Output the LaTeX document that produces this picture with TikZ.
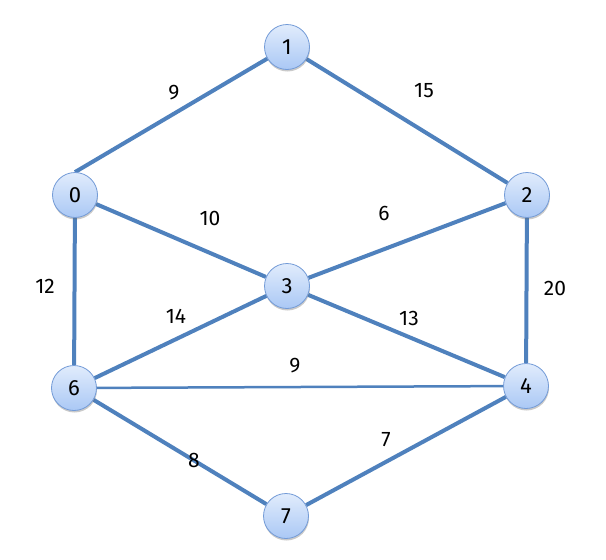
\documentclass[tikz,border=0pt]{standalone}
\usepackage{fontspec}
\setmainfont{Fira Sans}
\usetikzlibrary{shadows,backgrounds}
\definecolor{edgec}{RGB}{79,129,189}
\definecolor{nodebd}{RGB}{115,155,215}
\definecolor{nodetop}{RGB}{225,236,252}
\definecolor{nodebot}{RGB}{170,200,245}
\begin{document}
\begin{tikzpicture}[x=1pt,y=-1pt,
  vert/.style={circle,minimum size=45pt,inner sep=0pt,draw=nodebd,line width=0.8pt,
    top color=nodetop,bottom color=nodebot,
    drop shadow={shadow xshift=0.5pt,shadow yshift=-2pt,opacity=0.35,fill=black!60},
    font=\fontsize{22}{22}\selectfont,text=black},
  edge/.style={draw=edgec,line width=4pt},
  thin edge/.style={draw=edgec,line width=2.5pt},
  wlab/.style={font=\fontsize{21}{21}\selectfont,text=black,inner sep=0pt}]
\useasboundingbox (0,0) rectangle (606,560);
\node[vert] (n1) at (287,47) {1};
\node[vert] (n0) at (75,195) {0};
\node[vert] (n2) at (527,195) {2};
\node[vert] (n3) at (287,286) {3};
\node[vert] (n6) at (74,388) {6};
\node[vert] (n4) at (526,386) {4};
\node[vert] (n7) at (286,516) {7};
\begin{pgfonlayer}{background}
\draw[edge] (n1) -- (n0.north);
\draw[edge] (n1) -- (n2);
\draw[edge] (n0) -- (n3);
\draw[edge] (n2) -- (n3);
\draw[edge] (n0) -- (n6);
\draw[edge] (n2) -- (n4);
\draw[edge] (n3) -- (n6);
\draw[edge] (n3) -- (n4);
\draw[thin edge] (n6) -- (n4);
\draw[edge] (n6) -- (n7);
\draw[edge] (n4) -- (n7);
\end{pgfonlayer}
\node[wlab] (w01) at (174,93) {9};
\node[wlab] (w12) at (424,91) {15};
\node[wlab] (w03) at (210,218) {10};
\node[wlab] (w23) at (384,213) {6};
\node[wlab] (w06) at (45,286) {12};
\node[wlab] (w24) at (555,288) {20};
\node[wlab] (w36) at (176,316) {14};
\node[wlab] (w34) at (409,318) {13};
\node[wlab] (w64) at (295,366) {9};
\node[wlab] (w67) at (194,460) {8};
\node[wlab] (w47) at (386,440) {7};
\end{tikzpicture}
\end{document}
